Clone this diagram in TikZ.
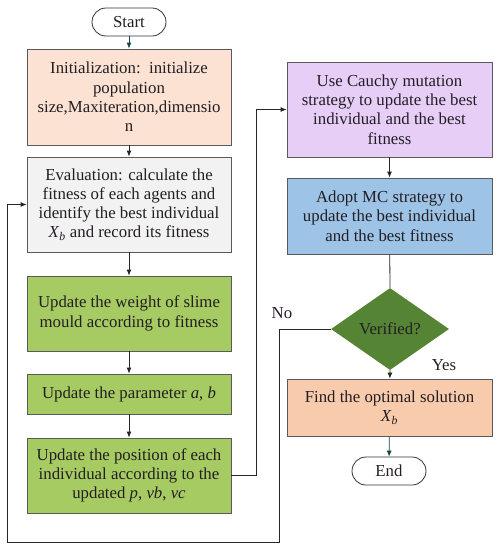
\documentclass[tikz,border=0pt]{standalone}
\usepackage{fontspec}
\setmainfont{Liberation Serif}
\usepackage{xcolor}
\usetikzlibrary{shapes.geometric, arrows.meta}
\definecolor{initbg}{RGB}{251, 226, 210}
\definecolor{evalbg}{RGB}{242, 242, 242}
\definecolor{stepgreen}{RGB}{166, 203, 98}
\definecolor{cauchybg}{RGB}{230, 206, 247}
\definecolor{mcbg}{RGB}{157, 195, 230}
\definecolor{checkgreen}{RGB}{84, 132, 52}
\definecolor{findbg}{RGB}{247, 203, 172}
\definecolor{tealarrow}{RGB}{20, 70, 70}
\definecolor{edgegray}{RGB}{90, 90, 90}
\definecolor{inkdark}{RGB}{35, 30, 35}

\tikzset{
    flowtext/.style={font=\fontsize{16.8}{19.3}\selectfont, text=inkdark},
    box/.style={draw=edgegray, line width=0.8pt, rectangle, align=center,
        minimum width=204pt, inner sep=1pt, flowtext},
    terminal/.style={draw=black!80, line width=0.8pt, rounded corners=14pt,
        minimum width=74pt, minimum height=28pt, inner sep=1pt, flowtext},
    flow/.style={-{Latex[length=6pt,width=5pt]}, line width=0.8pt, black!85},
}

\begin{document}
\begin{tikzpicture}[x=1pt, y=1pt]
    \useasboundingbox (0,0) rectangle (499,-550);

    % Left column
    \node[terminal] (start) at (129,-22) {Start};
    \node[box, fill=initbg, minimum height=96pt] (init) at (129,-97)
        {Initialization:\ \ initialize\\population\\size,Maxiteration,dimensio\\n};
    \node[box, fill=evalbg, minimum height=95pt] (eval) at (129,-204.5)
        {Evaluation: calculate the\\fitness of each agents and\\identify the best individual\\
         \textit{X}\textsubscript{\textit{b}} and record its fitness};
    \node[box, fill=stepgreen, minimum height=75pt] (weight) at (129,-313.5)
        {Update the weight of slime\\mould according to fitness};
    \node[box, fill=stepgreen, minimum height=40pt] (param) at (129,-394)
        {Update the parameter \textit{a}, \textit{b}};
    \node[box, fill=stepgreen, minimum height=75pt] (pos) at (129,-475.5)
        {Update the position of each\\individual according to the\\
         updated \textit{p}, \textit{vb}, \textit{vc}};

    % Right column
    \node[box, fill=cauchybg, minimum height=95pt, minimum width=205pt] (cauchy) at (389.5,-109.5)
        {Use Cauchy mutation\\strategy to update the best\\individual and the best\\fitness};
    \node[box, fill=mcbg, minimum height=76pt, minimum width=205pt] (mc) at (389.5,-216)
        {Adopt MC strategy to\\update the best individual\\and the best fitness};
    \node[diamond, fill=checkgreen, draw=none, minimum width=118pt, minimum height=82pt,
        inner sep=0pt, aspect=1.44, flowtext] (check) at (390,-329)
        {Verified?};
    \node[box, fill=findbg, minimum height=57pt, minimum width=205pt] (find) at (389.5,-407.5)
        {Find the optimal solution\\\textit{X}\textsubscript{\textit{b}}};
    \node[terminal] (end) at (389,-471) {End};

    % Labels
    \node[flowtext] (nolabel) at (282,-313) {No};
    \node[flowtext] (yeslabel) at (444,-365) {Yes};

    % Connectors
    \draw[flow, tealarrow] (start) -- (init);
    \draw[flow] (init) -- (eval);
    \draw[flow] (eval) -- (weight);
    \draw[flow] (weight) -- (param);
    \draw[flow] (param) -- (pos);
    \draw[flow] (pos.east) -- ++(25,0) |- (cauchy.west);
    \draw[flow] (cauchy) -- (mc);
    \draw[line width=0.8pt, black!85] (mc) -- (check.north);
    \draw[flow] (check.south) -- (find);
    \draw[flow, tealarrow] (find) -- (end);
    \draw[flow] (check.west) -| ++(-51,-213) -- ++(-272,0) |- (eval.west);
\end{tikzpicture}
\end{document}
